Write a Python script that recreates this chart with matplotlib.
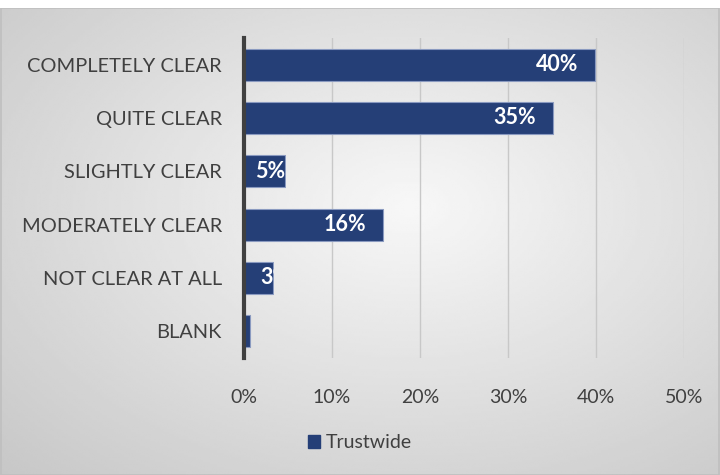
import numpy as np
import matplotlib
matplotlib.use("Agg")
import matplotlib.pyplot as plt
from matplotlib.patches import Rectangle

categories = ["COMPLETELY CLEAR", "QUITE CLEAR", "SLIGHTLY CLEAR",
              "MODERATELY CLEAR", "NOT CLEAR AT ALL", "BLANK"]
values = [39.9, 35.1, 4.7, 15.8, 3.3, 0.7]
labels = ["40%", "35%", "5%", "16%", "3%", ""]
xticks = [0, 10, 20, 30, 40, 50]
series_name = "Trustwide"

plt.rcParams['font.family'] = ['Lato', 'DejaVu Sans']

W, H = 720, 475
fig = plt.figure(figsize=(W/100, H/100), dpi=100)
fig.patch.set_facecolor("white")

# background radial gradient panel
yy, xx = np.mgrid[0:200, 0:300]
cx, cy = 170, 85
r = np.sqrt(((xx-cx)/300)**2 + ((yy-cy)/200)**2)
r = r / r.max()
img = 0.97 - 0.19*r
bg_rect = [0, 0, 1, (475-8)/475]

bg = fig.add_axes(bg_rect, zorder=0)
bg.set_axis_off()
bg.imshow(img, cmap="gray", vmin=0, vmax=1, aspect="auto", extent=[0, 1, 0, 1], interpolation="bilinear")
bg.add_patch(Rectangle((0.001, 0.0), 0.998, 0.999, transform=bg.transAxes, fill=False,
                       edgecolor="#BFBFBF", lw=1.2))
bg.set_xlim(0, 1); bg.set_ylim(0, 1)

ax = fig.add_axes([244/W, 1-358/H, 440/W, 320/H], zorder=1)
ax.patch.set_alpha(0)
y = np.arange(len(categories))
bars = ax.barh(y, values, height=0.6, color="#253F77", edgecolor="#8A9AC0", linewidth=0.8, zorder=3)
ax.set_ylim(len(categories)-0.5, -0.5)
ax.set_xlim(0, 50)
ax.set_xticks(xticks)
ax.set_xticklabels([f"{t}%" for t in xticks], fontsize=14, color="#404040")
ax.set_yticks(y)
ax.set_yticklabels(categories, fontsize=14.4, color="#404040")
ax.tick_params(axis="both", length=0)
ax.tick_params(axis="y", pad=16)
ax.tick_params(axis="x", pad=22)
ax.grid(axis="x", color="#C8C8C8", lw=1, zorder=0)
for s in ["top", "right", "bottom"]:
    ax.spines[s].set_visible(False)
ax.spines["left"].set_color("#404040")
ax.spines["left"].set_linewidth(3)
ax.spines["left"].set_zorder(4)

overflow = []
for b, lab in zip(bars, labels):
    if not lab:
        continue
    yc = b.get_y() + b.get_height()/2
    w = b.get_width()
    if w > 10:
        ax.text(w - 1.9, yc, lab, ha="right", va="center", color="white",
                fontsize=15.5, fontweight="bold", zorder=5)
    else:
        start = 1.25 if w > 4 else 1.8
        ax.text(start, yc, lab, ha="left", va="center", color="white",
                fontsize=15.5, fontweight="bold", zorder=5)
        overflow.append(b)

# mask text that overflows a short bar (label clipped at the bar end)
top = fig.add_axes(bg_rect, zorder=2)
top.set_axis_off()
top.patch.set_alpha(0)
for b in overflow:
    im = top.imshow(img, cmap="gray", vmin=0, vmax=1, aspect="auto",
                    extent=[0, 1, 0, 1], interpolation="bilinear")
    clip = Rectangle((b.get_width() + 0.08, b.get_y() - 0.05), 5, b.get_height() + 0.1,
                     transform=ax.transData)
    im.set_clip_path(clip)
top.set_xlim(0, 1); top.set_ylim(0, 1)

# legend
ax.legend([Rectangle((0, 0), 1, 1, color="#253F77")], [series_name],
          loc="center", bbox_to_anchor=(0.5, 1-443/H), bbox_transform=fig.transFigure,
          frameon=False, fontsize=14, handlelength=0.6, handleheight=0.6,
          handletextpad=0.3, labelcolor="#404040")

fig.savefig("out.png", dpi=100)
